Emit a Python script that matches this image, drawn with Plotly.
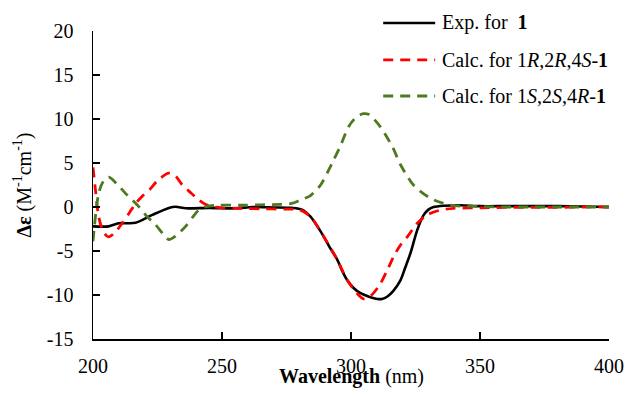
import plotly.graph_objects as go

# Experimental ECD
exp_wl = [200, 206, 210, 216.5, 223, 229.4, 232, 236, 245, 255, 262, 270, 277, 281, 284.3, 287, 289.5,
          292, 294.7, 296.5, 298.5, 301, 303.7, 307, 310.2, 312, 314, 316.5, 319.2, 321, 323.1, 325.7,
          328.2, 330, 332, 336, 342.5, 350, 360, 370, 380, 390, 400]
exp_de = [-2.2, -2.2, -1.85, -1.8, -0.9, -0.1, 0.03, -0.15, -0.1, -0.15, 0.0, -0.05, -0.1, -0.3, -1.1, -2.2, -3.4,
          -4.7, -6.0, -7.2, -8.3, -9.2, -9.8, -10.2, -10.45, -10.45, -10.2, -9.5, -8.3, -6.9, -5.2, -2.6,
          -0.9, -0.3, 0.0, 0.15, 0.2, 0.1, 0.1, 0.1, 0.1, 0.05, 0.0]

# Calc. for 1R,2R,4S-1
red_wl = [200, 201, 202.2, 204, 206, 208.5, 211.3, 214, 216.5, 219, 222, 225, 229.4, 232, 234.6, 238, 241,
          243.5, 246.2, 250, 256, 265, 275, 280, 284.3, 289.5, 294.7, 298.5, 302, 305, 308, 311.4, 314,
          316.6, 319, 321.8, 325.7, 329.5, 334, 339.7, 350, 360, 370, 380, 390, 400]
red_de = [4.5, 1.8, -1.1, -2.8, -3.4, -2.9, -1.85, -0.7, 0.4, 1.2, 2.0, 3.0, 3.85, 3.5, 2.5, 1.6, 0.8,
          0.3, 0.03, -0.1, -0.15, -0.2, -0.25, -0.3, -1.1, -3.4, -6.0, -8.3, -9.7, -10.45, -10.0, -8.7, -7.2,
          -5.6, -4.4, -3.4, -1.85, -0.9, -0.4, -0.15, -0.1, -0.05, -0.05, -0.05, 0.0, 0.0]

# Calc. for 1S,2S,4R-1
grn_wl = [200, 202.2, 204, 206.1, 209, 212.6, 217.8, 221, 224.2, 227, 229.4, 232, 235.9, 238.5, 241, 244,
          248.6, 258, 265, 272.7, 277, 280.4, 284.3, 288.2, 292.7, 296, 299, 302, 304.8, 307, 311.4, 316.1,
          319.2, 324.2, 330.8, 338.5, 345, 350, 360, 370, 380, 390, 400]
grn_de = [-3.9, 1.55, 2.9, 3.4, 2.7, 1.55, 0.03, -1.1, -2.0, -3.0, -3.7, -3.3, -2.2, -1.2, -0.35, 0.05,
          0.2, 0.2, 0.25, 0.3, 0.4, 0.8, 1.3, 2.5, 5.0, 7.0, 9.1, 10.2, 10.6, 10.5, 9.1, 6.8,
          4.8, 2.5, 1.0, 0.2, 0.1, 0.05, 0.0, 0.0, 0.0, 0.0, 0.0]

series_names = ["Exp. for  <b>1</b>",
                "Calc. for 1<i>R</i>,2<i>R</i>,4<i>S</i>-<b>1</b>",
                "Calc. for 1<i>S</i>,2<i>S</i>,4<i>R</i>-<b>1</b>"]
series_colors = ["black", "#FF0000", "#4E7A1F"]
series_dash = ["solid", "10px,7px", "10px,7px"]
series_width = [2.6, 2.8, 2.8]

x_ticks = [200, 250, 300, 350, 400]
y_ticks = [-15, -10, -5, 0, 5, 10, 15, 20]

FONT = "Liberation Serif"

fig = go.Figure()
for wl, de, nm, c, d, w in zip([exp_wl, red_wl, grn_wl], [exp_de, red_de, grn_de],
                               series_names, series_colors, series_dash, series_width):
    fig.add_trace(go.Scatter(x=wl, y=de, mode="lines", name=nm, showlegend=False,
                             line=dict(color=c, width=w, dash=d, shape="spline", smoothing=0.8)))

# manual legend (paper coordinates relative to plot area)
leg_rows = [1.026, 0.906, 0.789]
shapes = []
annotations = []
for yr, nm, c, d, w in zip(leg_rows, series_names, series_colors, series_dash, series_width):
    shapes.append(dict(type="line", xref="paper", yref="paper", x0=0.5624, x1=0.6631, y0=yr, y1=yr,
                       line=dict(color=c, width=w, dash=d)))
    annotations.append(dict(text=nm, xref="paper", yref="paper", x=0.6728, y=yr,
                            xanchor="left", yanchor="middle", showarrow=False,
                            font=dict(family=FONT, size=20, color="black")))

annotations.append(dict(text="<b>Wavelength</b> (nm)", xref="paper", yref="paper", x=0.5, y=-0.123,
                        xanchor="center", yanchor="middle", showarrow=False,
                        font=dict(family=FONT, size=20, color="black")))

fig.update_layout(
    width=627, height=396,
    margin=dict(l=92.5, r=18, t=31, b=57),
    paper_bgcolor="white", plot_bgcolor="white",
    font=dict(family=FONT, size=20, color="black"),
    showlegend=False,
    hovermode=False,
    shapes=shapes,
    annotations=annotations,
    xaxis=dict(range=[200, 400], tickvals=x_ticks, ticktext=[str(v) for v in x_ticks],
               showline=True, linecolor="black", linewidth=1.5, ticks="inside", ticklen=7,
               tickwidth=1.5, tickcolor="black", showgrid=False, zeroline=False,
               ticklabelstandoff=8, automargin=False,
               tickfont=dict(family=FONT, size=20, color="black")),
    yaxis=dict(range=[-15, 20], tickvals=y_ticks, ticktext=[str(v) for v in y_ticks],
               showline=True, linecolor="black", linewidth=1.5, ticks="inside", ticklen=7,
               tickwidth=1.5, tickcolor="black", showgrid=False, zeroline=False,
               ticklabelstandoff=14, automargin=False,
               tickfont=dict(family=FONT, size=20, color="black"),
               title=dict(text="<b>Δε</b> (M<sup>-1</sup>cm<sup>-1</sup>)", standoff=10,
                          font=dict(family=FONT, size=20, color="black"))),
)

fig.write_html("out.html", config={"displayModeBar": False, "staticPlot": True},
               post_script="document.body.style.margin='0';document.body.style.overflow='hidden';")
